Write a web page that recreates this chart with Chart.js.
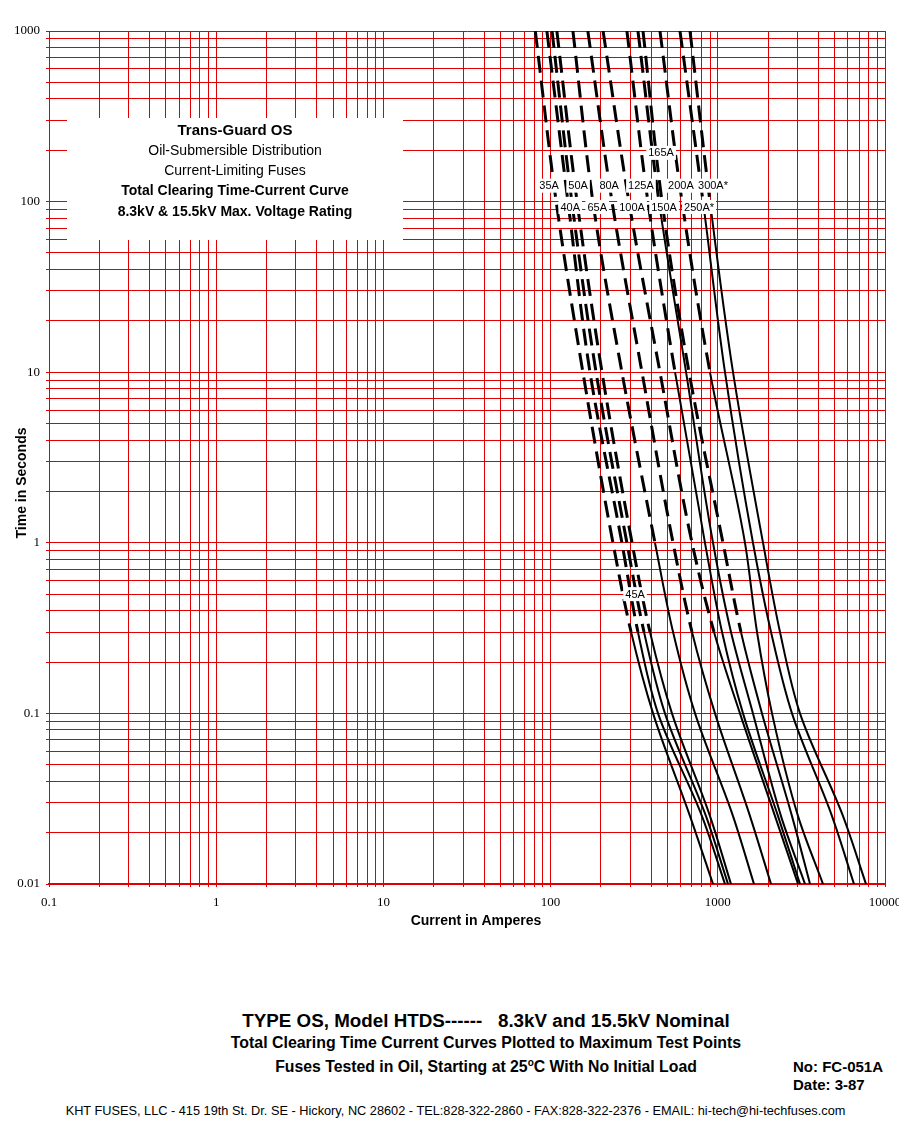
<!DOCTYPE html>
<html>
<head>
<meta charset="utf-8">
<script src="https://cdn.jsdelivr.net/npm/chart.js@4.4.1/dist/chart.umd.min.js"></script>
<style>
body { margin: 0; background: #fff; font-family: "Liberation Sans", Arial, sans-serif; }
#wrap { position: relative; width: 899px; height: 1138px; overflow: hidden; }
canvas { position: absolute; left: 0; top: 0; }
.t { position: absolute; color: #000; white-space: nowrap; font-weight: bold; line-height: 1; }
</style>
</head>
<body>
<div id="wrap">
<canvas id="tcc" width="899" height="940"></canvas>
<div class="t" style="left:0;width:972px;text-align:center;top:1012px;font-size:18.8px">TYPE OS, Model HTDS------&nbsp;&nbsp; 8.3kV and 15.5kV Nominal</div>
<div class="t" style="left:0;width:972px;text-align:center;top:1035px;font-size:15.9px">Total Clearing Time Current Curves Plotted to Maximum Test Points</div>
<div class="t" style="left:0;width:972px;text-align:center;top:1058px;font-size:15.8px">Fuses Tested in Oil, Starting at 25<sup style="font-size:10px">o</sup>C With No Initial Load</div>
<div class="t" style="left:793px;top:1059px;font-size:15px">No: FC-051A</div>
<div class="t" style="left:793px;top:1077px;font-size:15px">Date: 3-87</div>
<div class="t" style="left:0;width:911px;text-align:center;top:1105px;font-size:12.75px;font-weight:normal">KHT FUSES, LLC - 415 19th St. Dr. SE - Hickory, NC 28602 - TEL:828-322-2860 - FAX:828-322-2376 - EMAIL: hi-tech@hi-techfuses.com</div>
</div>
<script>
// time levels (seconds) where each curve was read
const times = [1000, 100, 10, 1, 0.3, 0.1, 0.025, 0.01]

const ratings = ['35A', '40A', '45A', '50A', '65A', '80A', '100A', '125A', '150A', '165A', '200A', '250A*', '300A*']

// current in amperes for each rating at the time levels above
const currents = [
    [81, 108, 156, 236, 303, 410, 682, 936],
    [95, 127, 172, 267, 333, 439, 804, 1104],
    [102, 134, 187, 286, 362, 483, 850, 1151],
    [109, 144, 203, 307, 393, 532, 898, 1199],
    [136, 179, 267, 421, 540, 731, 1233, 1646],
    [167, 233, 352, 540, 701, 962, 1558, 2081],
    [206, 294, 451, 701, 949, 1357, 2199, 3019],
    [286, 382, 555, 838, 1060, 1415, 2292, 3102],
    [333, 445, 646, 936, 1199, 1623, 2388, 3323],
    [357, 464, 673, 1074, 1376, 1838, 2778, 3560],
    [451, 611, 898, 1454, 1716, 2110, 3019, 4258],
    [594, 816, 1104, 1623, 2081, 2778, 4820, 6523],
    [682, 898, 1233, 1864, 2355, 3102, 5609, 7697]
]

// curve is drawn dashed down to this time, solid below it
const dashedTo = [0.3, 0.3, 0.3, 0.3, 1, 0.3, 0.3, 10, 100, 0.3, 10, 100, 100]

// rating labels: text, current, time
const labelText = ['35A', '50A', '80A', '125A', '200A', '300A*', '40A', '65A', '100A', '150A', '250A*', '165A', '45A']
const labelAmps = [98, 146, 224, 347, 602, 936, 131, 190, 307, 477, 772, 458, 320]
const labelTime = [124, 124, 124, 124, 124, 124, 93, 93, 93, 93, 93, 193, 0.5]

const xTickRange = [-1, 4]
const yTickRange = [-2, 3]

const boxLines = [
    ['bold 15px "Liberation Sans"', 'Trans-Guard OS'],
    ['14px "Liberation Sans"', 'Oil-Submersible Distribution'],
    ['14px "Liberation Sans"', 'Current-Limiting Fuses'],
    ['bold 14px "Liberation Sans"', 'Total Clearing Time-Current Curve'],
    ['bold 14px "Liberation Sans"', '8.3kV & 15.5kV Max. Voltage Rating']
]

const red = 'rgb(225,0,0)'

function logTicks(range) {
    const out = []
    for (let e = range[0]; e < range[1]; e++) {
        for (let m = 1; m < 10; m++) out.push({ value: +(m * Math.pow(10, e)).toPrecision(3) })
    }
    out.push({ value: Math.pow(10, range[1]) })
    return out
}

function decadeLabel(v) {
    const l = Math.log10(v)
    return Math.abs(l - Math.round(l)) < 1e-9 ? String(v) : ''
}

const datasets = currents.map((row, i) => ({
    label: ratings[i],
    data: row.map((a, k) => ({ x: a, y: times[k] })),
    borderColor: '#000',
    borderWidth: 2,
    pointRadius: 0,
    cubicInterpolationMode: 'monotone',
    segment: {
        borderDash: ctx => ctx.p1.parsed.y >= dashedTo[i] ? [17, 8] : [],
        borderWidth: ctx => ctx.p1.parsed.y >= dashedTo[i] ? 3 : 2
    }
}))

const infoBox = {
    id: 'infoBox',
    beforeDatasetsDraw(chart) {
        const c = chart.ctx
        c.save()
        c.fillStyle = '#fff'
        c.fillRect(67, 118, 336, 122)
        c.fillStyle = '#000'
        c.textAlign = 'center'
        c.textBaseline = 'middle'
        boxLines.forEach((l, i) => {
            c.font = l[0]
            c.fillText(l[1], 235, 131 + i * 20.2)
        })
        c.restore()
    }
}

const ratingLabels = {
    id: 'ratingLabels',
    afterDatasetsDraw(chart) {
        const c = chart.ctx
        const xs = chart.scales.x, ys = chart.scales.y
        c.save()
        c.font = '11px "Liberation Sans"'
        c.textAlign = 'center'
        c.textBaseline = 'middle'
        labelText.forEach((t, i) => {
            const px = xs.getPixelForValue(labelAmps[i])
            const py = ys.getPixelForValue(labelTime[i])
            const w = c.measureText(t).width + 4
            c.fillStyle = '#fff'
            c.fillRect(px - w / 2, py - 7, w, 14)
            c.fillStyle = '#000'
            c.fillText(t, px, py + 0.5)
        })
        c.restore()
    }
}

const axisTitles = {
    id: 'axisTitles',
    afterDraw(chart) {
        const c = chart.ctx
        c.save()
        c.fillStyle = '#000'
        c.font = 'bold 14px "Liberation Sans"'
        c.textAlign = 'center'
        c.textBaseline = 'middle'
        c.fillText('Current in Amperes', 476, 921)
        c.translate(22, 483)
        c.rotate(-Math.PI / 2)
        c.fillText('Time in Seconds', 0, 0)
        c.restore()
    }
}

new Chart(document.getElementById('tcc'), {
    type: 'line',
    data: { datasets: datasets },
    options: {
        indexAxis: 'y',
        responsive: false,
        animation: false,
        events: [],
        layout: { padding: { top: 31, right: 14, left: 0, bottom: 0 } },
        plugins: { legend: { display: false }, tooltip: { enabled: false } },
        scales: {
            x: {
                type: 'logarithmic',
                position: 'bottom',
                min: 0.1,
                max: 10000,
                afterBuildTicks: s => { s.ticks = logTicks(xTickRange) },
                afterFit: s => { s.height = 56; s.paddingLeft = 0; s.paddingRight = 0 },
                grid: { color: red, lineWidth: 1, tickLength: 3 },
                border: { color: red, width: 2 },
                ticks: {
                    autoSkip: false,
                    maxRotation: 0,
                    padding: 8,
                    color: '#000',
                    font: { family: '"Liberation Serif"', size: 13 },
                    callback: decadeLabel
                }
            },
            y: {
                type: 'logarithmic',
                position: 'left',
                min: 0.01,
                max: 1000,
                afterBuildTicks: s => { s.ticks = logTicks(yTickRange) },
                afterFit: s => { s.width = 49; s.paddingTop = 0; s.paddingBottom = 0 },
                grid: { color: red, lineWidth: 1, tickLength: 3 },
                border: { color: red, width: 1 },
                ticks: {
                    autoSkip: false,
                    padding: 6,
                    color: '#000',
                    font: { family: '"Liberation Serif"', size: 13 },
                    callback: decadeLabel
                }
            }
        }
    },
    plugins: [infoBox, ratingLabels, axisTitles]
})
</script>
</body>
</html>
